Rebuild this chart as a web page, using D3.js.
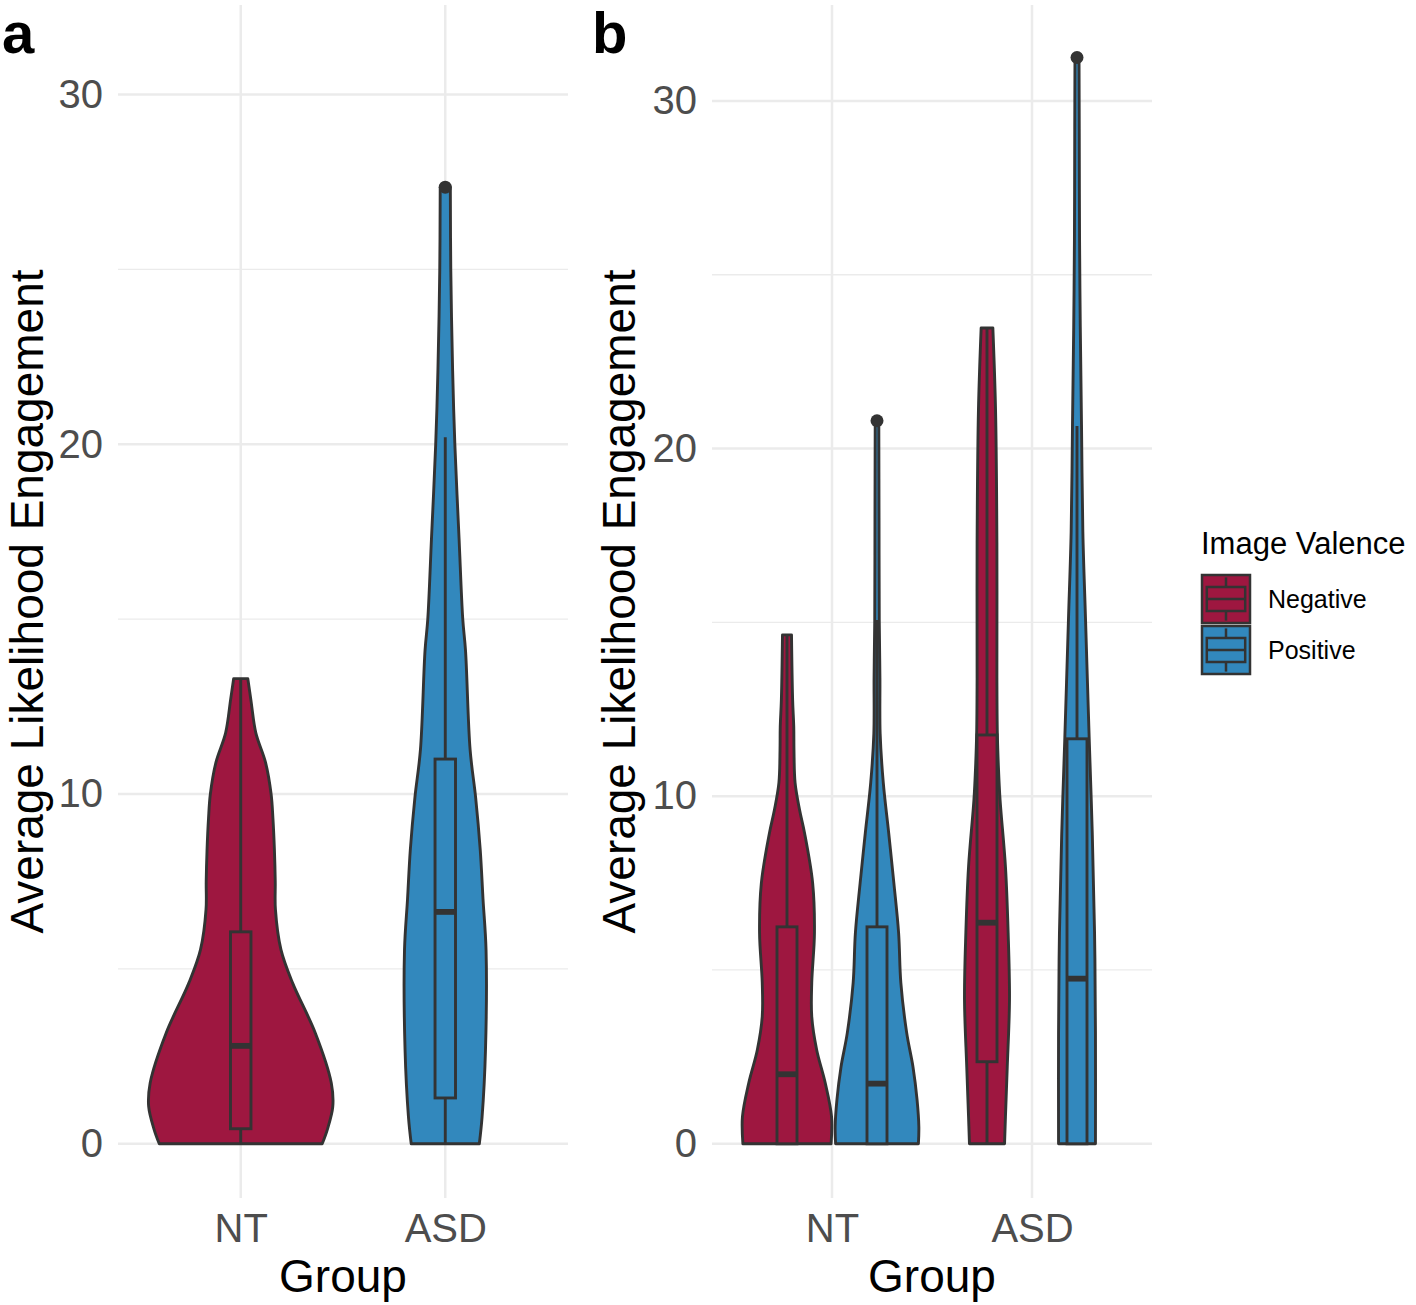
<!DOCTYPE html>
<html>
<head>
<meta charset="utf-8">
<script src="https://cdn.jsdelivr.net/npm/d3@7"></script>
<style>
  body { margin: 0; background: #fff; }
  svg { display: block; }
</style>
</head>
<body>
<div id="chart"></div>
<script>
// categories / ticks
const groups = ['NT', 'ASD']
const valences = ['Negative', 'Positive']
const yTicks = [0, 10, 20, 30]
const yMinorTicks = [5, 15, 25]

// panel a: violin profiles (value, relative density)
const aNtValues = [0, 0.4, 1.06, 1.74, 3.17, 4.6, 5.55, 6.7, 7.5, 8.4, 9.3, 10.0, 10.9, 11.75, 12.7, 13.3]
const aNtDensity = [0.885, 0.94, 1.0, 0.984, 0.81, 0.563, 0.437, 0.377, 0.375, 0.366, 0.35, 0.33, 0.27, 0.164, 0.11, 0.077]
const aAsdValues = [0, 0.77, 2.69, 5.54, 7.0, 8.4, 9.9, 11.26, 14.1, 15.0, 17.3, 20.0, 22.1, 24.97, 27.35]
const aAsdDensity = [0.37, 0.40, 0.437, 0.443, 0.41, 0.38, 0.33, 0.27, 0.22, 0.19, 0.15, 0.104, 0.08, 0.06, 0.055]

// panel b: violin profiles
const bNtNegValues = [0, 0.78, 1.75, 2.7, 3.66, 4.63, 6.07, 7.5, 8.94, 9.6, 10.38, 11.33, 12.0, 12.77, 14.64]
const bNtNegDensity = [0.98, 0.99, 0.85, 0.66, 0.55, 0.55, 0.61, 0.57, 0.39, 0.28, 0.18, 0.155, 0.15, 0.125, 0.10]
const bNtPosValues = [0, 0.49, 1.27, 2.21, 3.19, 4.63, 6.07, 7.5, 8.94, 10.38, 11.8, 13.4, 15.07, 18.0, 20.8]
const bNtPosDensity = [0.92, 0.93, 0.89, 0.80, 0.66, 0.53, 0.48, 0.375, 0.26, 0.14, 0.07, 0.065, 0.05, 0.045, 0.04]
const bAsdNegValues = [0, 0.78, 2.21, 4.14, 6.07, 7.97, 9.9, 10.8, 11.8, 13.4, 17.3, 21.1, 23.47]
const bAsdNegDensity = [0.39, 0.41, 0.45, 0.50, 0.47, 0.41, 0.29, 0.255, 0.23, 0.22, 0.22, 0.19, 0.13]
const bAsdPosValues = [0, 3.19, 6.07, 8.9, 11.7, 15.07, 17.6, 20.7, 23.5, 26.0, 29.2, 31.25]
const bAsdPosDensity = [0.41, 0.41, 0.39, 0.34, 0.27, 0.19, 0.13, 0.10, 0.073, 0.057, 0.05, 0.045]

// box statistics [lower whisker, q1, median, q3, upper whisker]
const aNtBox = [0, 0.43, 2.8, 6.06, 13.3]
const aAsdBox = [0, 1.31, 6.63, 11.0, 20.2]
const bNtNegBox = [0, 0, 2.0, 6.24, 14.64]
const bNtPosBox = [0, 0, 1.73, 6.24, 15.07]
const bAsdNegBox = [0, 2.36, 6.36, 11.76, 23.47]
const bAsdPosBox = [0, 0, 4.75, 11.65, 20.65]

// outliers
const aNtOut = []
const aAsdOut = [27.35]
const bNtNegOut = []
const bNtPosOut = [20.8]
const bAsdNegOut = []
const bAsdPosOut = [31.25]

const FONT = '"Liberation Sans", Arial, Helvetica, sans-serif'
const color = d3.scaleOrdinal().domain(valences).range(['#9E1740', '#3288BD'])
const OUTLINE = '#333333'
const LW = 2.9

const svg = d3.select('#chart').append('svg')
  .attr('width', 1416)
  .attr('height', 1305)

function drawPanel(p) {
  const x = d3.scalePoint().domain(groups).range([p.left, p.right]).padding(0.6)
  const step = x.step()
  const y = d3.scaleLinear().domain(p.yDomain).range([p.bottom, p.top])
  const g = svg.append('g')

  // minor gridlines
  g.append('g').selectAll('line').data(yMinorTicks).join('line')
    .attr('x1', p.left).attr('x2', p.right)
    .attr('y1', d => y(d)).attr('y2', d => y(d))
    .attr('stroke', '#EBEBEB').attr('stroke-width', 1.3)

  // major gridlines
  g.append('g').selectAll('line').data(yTicks).join('line')
    .attr('x1', p.left).attr('x2', p.right)
    .attr('y1', d => y(d)).attr('y2', d => y(d))
    .attr('stroke', '#EBEBEB').attr('stroke-width', 2.5)

  g.append('g').selectAll('line').data(groups).join('line')
    .attr('x1', d => x(d)).attr('x2', d => x(d))
    .attr('y1', p.top).attr('y2', p.bottom)
    .attr('stroke', '#EBEBEB').attr('stroke-width', 2.5)

  // Y axis labels
  g.append('g')
    .attr('transform', `translate(${p.left},0)`)
    .call(d3.axisLeft(y).tickValues(yTicks).tickSize(0).tickPadding(15))
    .call(sel => sel.select('.domain').remove())
    .call(sel => sel.selectAll('.tick text')
      .style('font-size', '40px')
      .style('fill', '#4D4D4D')
      .style('font-family', FONT))

  // X axis labels
  g.append('g')
    .attr('transform', `translate(0,${p.bottom})`)
    .call(d3.axisBottom(x).tickSize(0).tickPadding(16))
    .call(sel => sel.select('.domain').remove())
    .call(sel => sel.selectAll('.tick text')
      .style('font-size', '40px')
      .style('fill', '#4D4D4D')
      .style('font-family', FONT))

  // violins
  p.items.forEach(it => {
    const cx = x(it.group) + it.dodge * step
    const half = p.widthFrac * step
    const area = d3.area()
      .y(d => y(d[0]))
      .x0(d => cx - d[1] * half)
      .x1(d => cx + d[1] * half)
      .curve(d3.curveCatmullRom)
    g.append('path')
      .datum(d3.zip(it.values, it.density))
      .attr('d', area)
      .attr('fill', color(it.valence))
      .attr('stroke', OUTLINE)
      .attr('stroke-width', LW)
      .attr('stroke-linejoin', 'round')
  })

  // boxplots
  p.items.forEach(it => {
    const cx = x(it.group) + it.dodge * step
    const bw = 0.1 * step
    const [lo, q1, med, q3, hi] = it.box
    const bg = g.append('g')
    bg.append('line')
      .attr('x1', cx).attr('x2', cx).attr('y1', y(q3)).attr('y2', y(hi))
      .attr('stroke', OUTLINE).attr('stroke-width', LW)
    bg.append('line')
      .attr('x1', cx).attr('x2', cx).attr('y1', y(q1)).attr('y2', y(lo))
      .attr('stroke', OUTLINE).attr('stroke-width', LW)
    bg.append('rect')
      .attr('x', cx - bw / 2).attr('y', y(q3))
      .attr('width', bw).attr('height', y(q1) - y(q3))
      .attr('fill', color(it.valence))
      .attr('stroke', OUTLINE).attr('stroke-width', LW)
    bg.append('line')
      .attr('x1', cx - bw / 2).attr('x2', cx + bw / 2)
      .attr('y1', y(med)).attr('y2', y(med))
      .attr('stroke', OUTLINE).attr('stroke-width', LW * 2)
    bg.selectAll('circle').data(it.out).join('circle')
      .attr('cx', cx).attr('cy', d => y(d)).attr('r', 6.5)
      .attr('fill', OUTLINE)
  })

  // axis titles
  g.append('text')
    .attr('x', (p.left + p.right) / 2).attr('y', 1292)
    .attr('text-anchor', 'middle')
    .style('font-size', '46px').style('font-family', FONT).style('fill', '#000')
    .text('Group')

  g.append('text')
    .attr('transform', `translate(${p.titleX},${(p.top + p.bottom) / 2}) rotate(-90)`)
    .attr('text-anchor', 'middle')
    .style('font-size', '46px').style('font-family', FONT).style('fill', '#000')
    .text('Average Likelihood Engagement')

  // panel tag
  g.append('text')
    .attr('x', p.tagX).attr('y', 53)
    .style('font-size', '58px').style('font-weight', 'bold')
    .style('font-family', FONT).style('fill', '#000')
    .text(p.tag)
}

drawPanel({
  left: 118, right: 568, top: 5, bottom: 1198,
  yDomain: [-1.55, 32.56], widthFrac: 0.45,
  titleX: 43, tag: 'a', tagX: 2,
  items: [
    { group: 'NT', valence: 'Negative', dodge: 0, values: aNtValues, density: aNtDensity, box: aNtBox, out: aNtOut },
    { group: 'ASD', valence: 'Positive', dodge: 0, values: aAsdValues, density: aAsdDensity, box: aAsdBox, out: aAsdOut }
  ]
})

drawPanel({
  left: 712, right: 1152, top: 5, bottom: 1198,
  yDomain: [-1.56, 32.76], widthFrac: 0.225,
  titleX: 635, tag: 'b', tagX: 592,
  items: [
    { group: 'NT', valence: 'Negative', dodge: -0.225, values: bNtNegValues, density: bNtNegDensity, box: bNtNegBox, out: bNtNegOut },
    { group: 'NT', valence: 'Positive', dodge: 0.225, values: bNtPosValues, density: bNtPosDensity, box: bNtPosBox, out: bNtPosOut },
    { group: 'ASD', valence: 'Negative', dodge: -0.225, values: bAsdNegValues, density: bAsdNegDensity, box: bAsdNegBox, out: bAsdNegOut },
    { group: 'ASD', valence: 'Positive', dodge: 0.225, values: bAsdPosValues, density: bAsdPosDensity, box: bAsdPosBox, out: bAsdPosOut }
  ]
})

// Legend
const legend = svg.append('g').attr('transform', 'translate(1201, 0)')
legend.append('text')
  .attr('x', 0).attr('y', 554)
  .style('font-size', '31px').style('font-family', FONT).style('fill', '#000')
  .text('Image Valence')

const KEY = 48
const keys = legend.selectAll('g.key').data(valences).join('g')
  .attr('class', 'key')
  .attr('transform', (d, i) => `translate(1, ${575 + i * (KEY + 3)})`)

keys.append('rect')
  .attr('width', KEY).attr('height', KEY)
  .attr('fill', d => color(d))
  .attr('stroke', OUTLINE).attr('stroke-width', 2.5)
keys.append('line')
  .attr('x1', KEY / 2).attr('x2', KEY / 2).attr('y1', KEY * 0.05).attr('y2', KEY * 0.25)
  .attr('stroke', OUTLINE).attr('stroke-width', 2.5)
keys.append('line')
  .attr('x1', KEY / 2).attr('x2', KEY / 2).attr('y1', KEY * 0.75).attr('y2', KEY * 0.95)
  .attr('stroke', OUTLINE).attr('stroke-width', 2.5)
keys.append('rect')
  .attr('x', KEY * 0.1).attr('y', KEY * 0.25)
  .attr('width', KEY * 0.8).attr('height', KEY * 0.5)
  .attr('fill', d => color(d))
  .attr('stroke', OUTLINE).attr('stroke-width', 2.5)
keys.append('line')
  .attr('x1', KEY * 0.1).attr('x2', KEY * 0.9).attr('y1', KEY / 2).attr('y2', KEY / 2)
  .attr('stroke', OUTLINE).attr('stroke-width', 2.5)
keys.append('text')
  .attr('x', 66).attr('y', KEY / 2 + 9)
  .style('font-size', '25px').style('font-family', FONT).style('fill', '#000')
  .text(d => d)
</script>
</body>
</html>
